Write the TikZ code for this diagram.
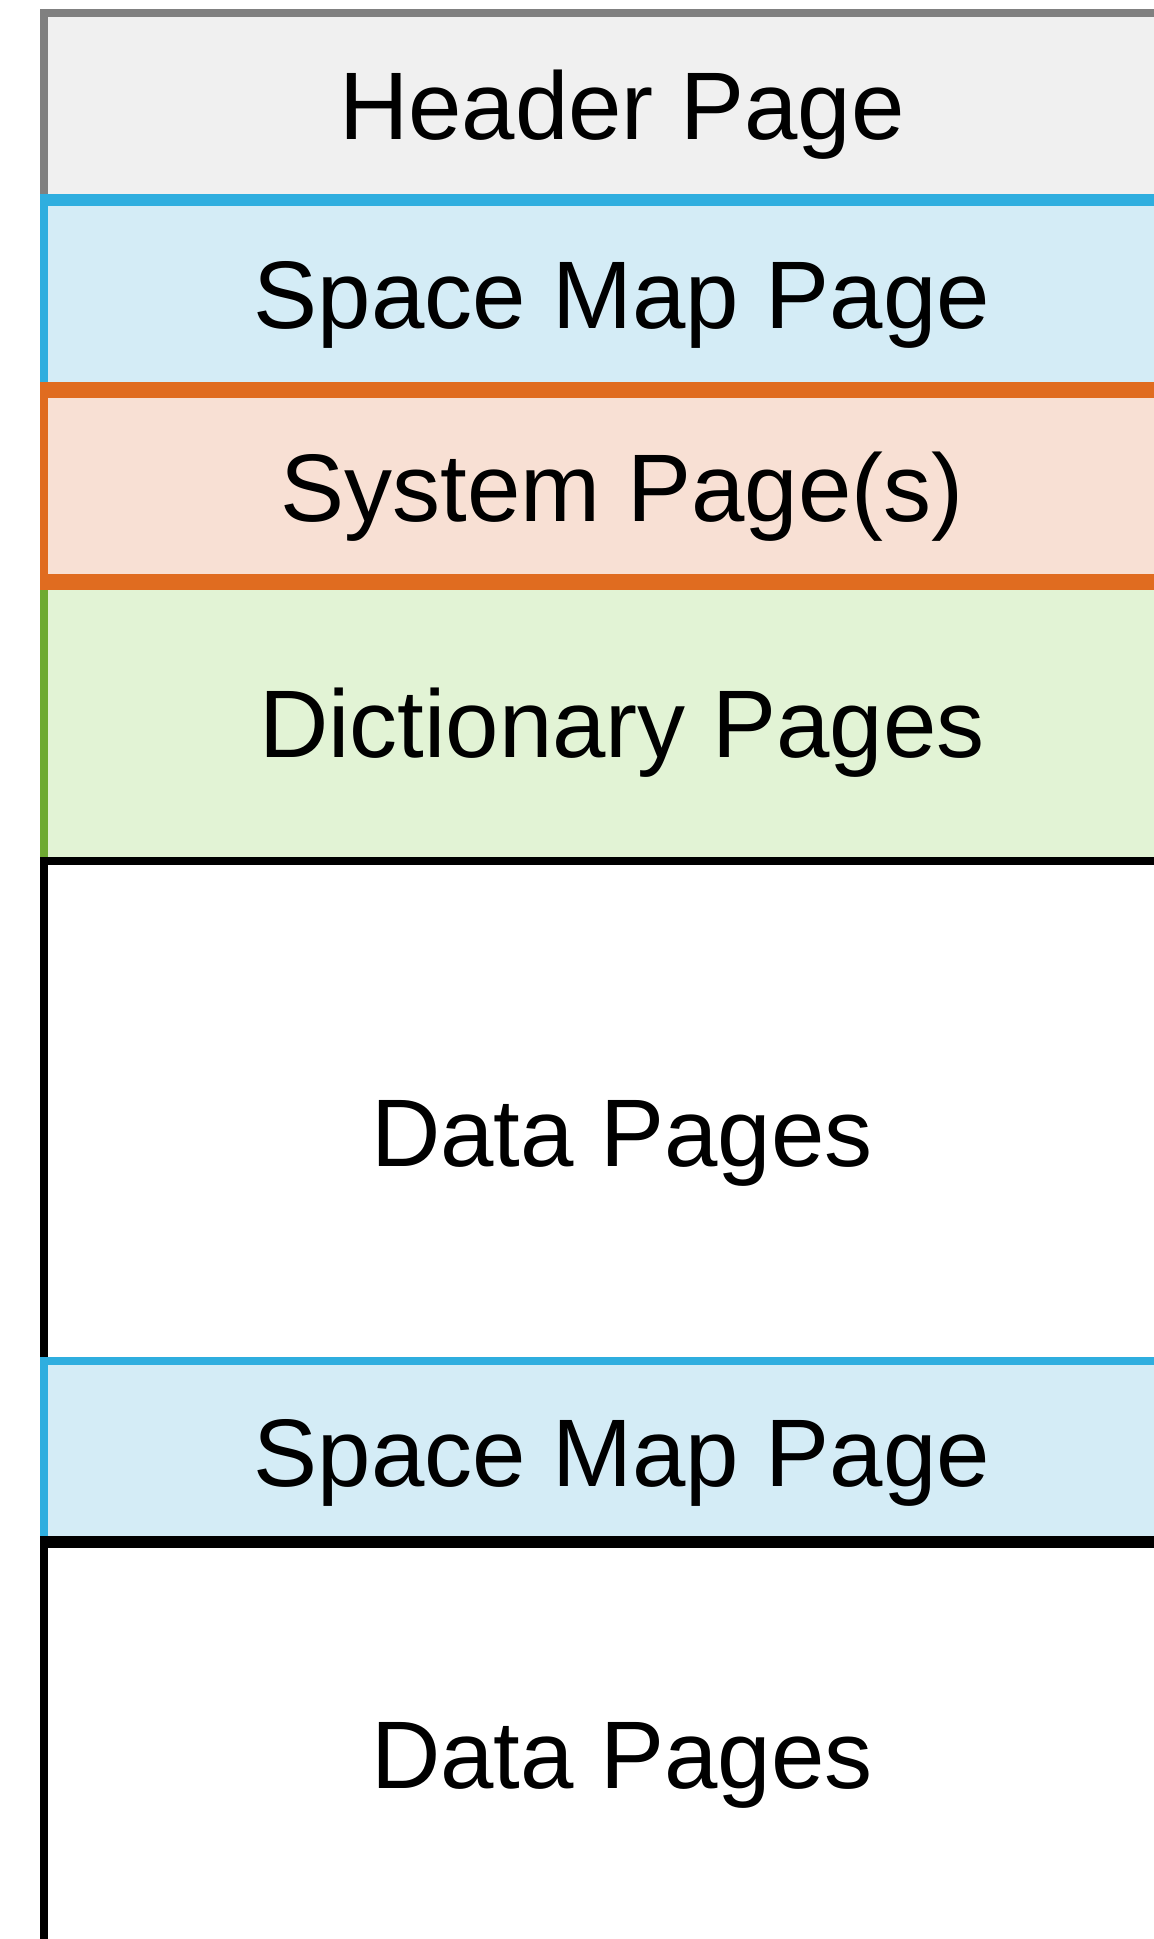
\documentclass[tikz,border=0pt]{standalone}
\usepackage{fontspec}
\setmainfont{Liberation Sans}
\definecolor{hdrline}{RGB}{128,128,128}
\definecolor{hdrfill}{RGB}{240,240,240}
\definecolor{smline}{RGB}{47,174,223}
\definecolor{smfill}{RGB}{212,236,246}
\definecolor{sysline}{RGB}{224,108,32}
\definecolor{sysfill}{RGB}{248,224,212}
\definecolor{dicline}{RGB}{110,170,50}
\definecolor{dicfill}{RGB}{226,243,213}
\tikzset{
  pagebox/.style={rectangle, anchor=north west, inner sep=0pt, outer sep=0pt,
    minimum width=1154pt, line width=8pt},
  pagelabel/.style={anchor=base, inner sep=0pt, font=\fontsize{96}{110}\selectfont}
}
\begin{document}
\begin{tikzpicture}[x=1pt, y=-1pt]
\useasboundingbox (0,0) rectangle (1154,1939);
\clip (0,0) rectangle (1154,1939);
\fill[white] (0,0) rectangle (1154,1939);

% file layout, one band per page group, top to bottom
\node[pagebox, draw=hdrline, fill=hdrfill, minimum height=187pt] (hdr) at (44,13) {};
\node[pagebox, draw=smline, fill=smfill, minimum height=190pt] (smp1) at (44,200) {};
\node[pagebox, draw=sysline, fill=sysfill, minimum height=192pt] (sys) at (44,390) {};
\node[pagebox, draw=dicline, fill=dicfill, minimum height=279pt] (dic) at (44,582) {};
\node[pagebox, draw=black, fill=white, minimum height=500pt] (dat1) at (44,861) {};
\node[pagebox, draw=smline, fill=smfill, minimum height=181pt] (smp2) at (44,1361) {};
\node[pagebox, draw=black, fill=white, minimum height=600pt] (dat2) at (44,1542) {};

% heavier dividing lines
\draw[smline, line width=12pt] ([xshift=-4pt]smp1.north west) -- (smp1.north east);
\draw[sysline, line width=16pt] ([xshift=-4pt]sys.north west) -- (sys.north east);
\draw[sysline, line width=16pt] ([xshift=-4pt]sys.south west) -- (sys.south east);
\draw[black, line width=12pt] ([xshift=-4pt]dat2.north west) -- (dat2.north east);

% labels
\node[pagelabel] (thdr) at (622,139) {Header Page};
\node[pagelabel] (tsmp1) at (622,328) {Space Map Page};
\node[pagelabel] (tsys) at (622,521) {System Page(s)};
\node[pagelabel] (tdic) at (622,757) {Dictionary Pages};
\node[pagelabel] (tdat1) at (622,1166) {Data Pages};
\node[pagelabel] (tsmp2) at (622,1486) {Space Map Page};
\node[pagelabel] (tdat2) at (622,1788) {Data Pages};
\end{tikzpicture}
\end{document}
